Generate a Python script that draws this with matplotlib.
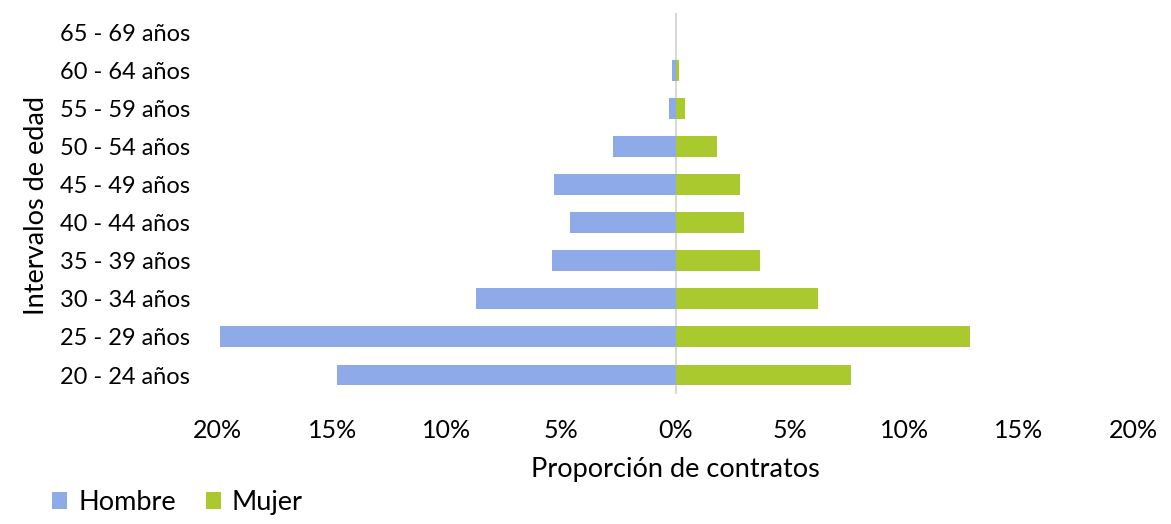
import numpy as np
import matplotlib.pyplot as plt
from matplotlib.ticker import FuncFormatter

plt.rcParams['font.family'] = ['Lato', 'DejaVu Sans']

grupos = ['20 - 24 años', '25 - 29 años', '30 - 34 años', '35 - 39 años', '40 - 44 años',
          '45 - 49 años', '50 - 54 años', '55 - 59 años', '60 - 64 años', '65 - 69 años']
hombre = [14.8, 19.9, 8.7, 5.4, 4.6, 5.3, 2.75, 0.3, 0.17, 0.0]
mujer = [7.65, 12.85, 6.2, 3.67, 3.0, 2.83, 1.8, 0.4, 0.13, 0.0]

c_h = '#8eaae8'
c_m = '#a9c92f'

fig = plt.figure(figsize=(11.71, 5.24), dpi=100)
ax = fig.add_axes([0.186, 0.248, 0.782, 0.727])

y = np.arange(len(grupos))
ax.barh(y, -np.array(hombre), height=0.55, color=c_h, label='Hombre')
ax.barh(y, mujer, height=0.55, color=c_m, label='Mujer')
ax.axvline(0, color='#d9d9d9', lw=1.5, zorder=0)

ax.set_xlim(-20, 20)
ax.set_ylim(-0.5, len(grupos) - 0.5)
ax.set_xticks(np.arange(-20, 21, 5))
ax.xaxis.set_major_formatter(FuncFormatter(lambda v, p: f'{abs(v):.0f}%'))
ax.set_yticks(y)
ax.set_yticklabels(grupos)
ax.tick_params(axis='both', length=0, colors='#000000')
ax.tick_params(axis='y', pad=20, labelsize=17)
ax.tick_params(axis='x', pad=18, labelsize=18)
for s in ax.spines.values():
    s.set_visible(False)

ax.set_xlabel('Proporción de contratos', fontsize=19.5, labelpad=11)
fig.text(0.031, 0.607, 'Intervalos de edad', rotation=90, fontsize=19.5, ha='center', va='center')

fig.legend(loc='lower left', bbox_to_anchor=(0.024, -0.03), ncol=2, fontsize=19.5, frameon=False,
           handlelength=0.55, handleheight=0.6, handletextpad=0.4, columnspacing=1.1)

fig.savefig('out.png', dpi=100)
